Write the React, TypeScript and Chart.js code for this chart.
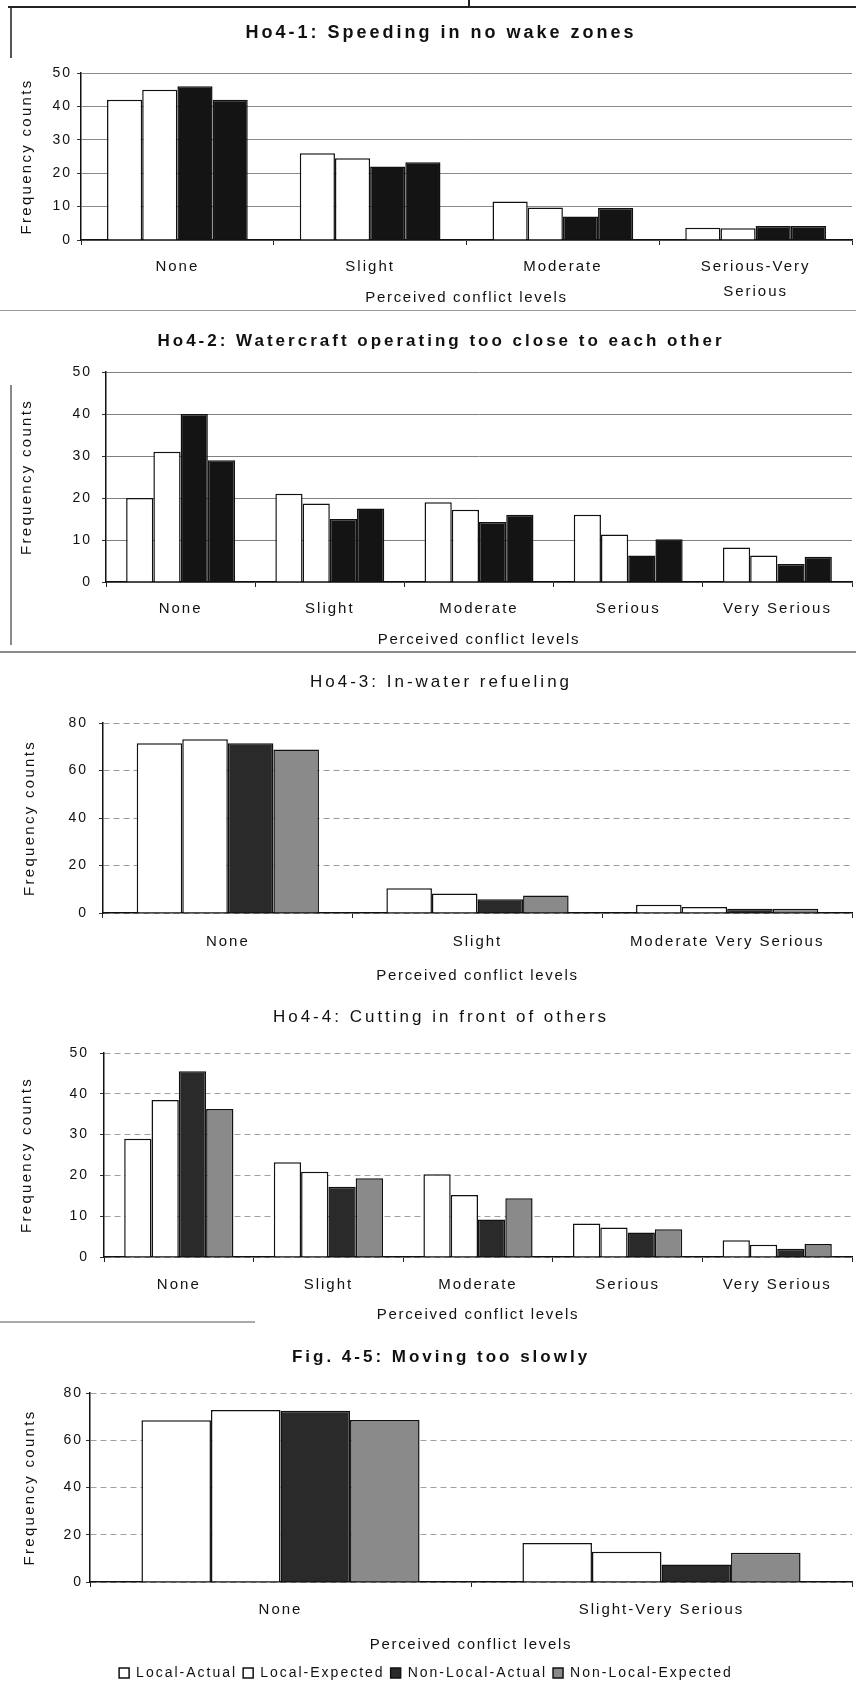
import React, { useEffect, useRef } from 'react';
import { Chart, registerables } from 'chart.js';

Chart.register(...registerables);

const FONT = "'Liberation Sans', Arial, Helvetica, sans-serif";

// ---------------- data ----------------
const seriesLabels = ['Local-Actual', 'Local-Expected', 'Non-Local-Actual', 'Non-Local-Expected'];
const xAxisTitle = 'Perceived conflict levels';
const yAxisTitle = 'Frequency counts';

// Chart 1
const c1Title = 'Ho4-1: Speeding in no wake zones';
const c1Categories = ['None', 'Slight', 'Moderate', ['Serious-Very', 'Serious']];
const c1LocalActual = [42, 26, 11.5, 3.7];
const c1LocalExpected = [45, 24.5, 9.7, 3.5];
const c1NonLocalActual = [46, 22, 7, 4.2];
const c1NonLocalExpected = [42, 23.3, 9.6, 4.2];
const c1YTicks = [0, 10, 20, 30, 40, 50];

// Chart 2
const c2Title = 'Ho4-2: Watercraft operating too close to each other';
const c2Categories = ['None', 'Slight', 'Moderate', 'Serious', 'Very Serious'];
const c2LocalActual = [20, 21, 19, 16, 8.2];
const c2LocalExpected = [31, 18.7, 17.2, 11.3, 6.3];
const c2NonLocalActual = [40, 15, 14.3, 6.3, 4.3];
const c2NonLocalExpected = [29, 17.5, 16, 10.2, 6];
const c2YTicks = [0, 10, 20, 30, 40, 50];

// Chart 3
const c3Title = 'Ho4-3: In-water refueling';
const c3Categories = ['None', 'Slight', 'Moderate Very Serious'];
const c3LocalActual = [71.5, 10.4, 3.5];
const c3LocalExpected = [73.2, 8.2, 2.5];
const c3NonLocalActual = [71.5, 5.8, 1.8];
const c3NonLocalExpected = [68.8, 7.4, 1.8];
const c3YTicks = [0, 20, 40, 60, 80];

// Chart 4
const c4Title = 'Ho4-4: Cutting in front of others';
const c4Categories = ['None', 'Slight', 'Moderate', 'Serious', 'Very Serious'];
const c4LocalActual = [29, 23.2, 20.3, 8.2, 4.1];
const c4LocalExpected = [38.5, 20.9, 15.2, 7.2, 3];
const c4NonLocalActual = [45.5, 17.2, 9.2, 6, 2];
const c4NonLocalExpected = [36.3, 19.3, 14.4, 6.8, 3.2];
const c4YTicks = [0, 10, 20, 30, 40, 50];

// Chart 5
const c5Title = 'Fig. 4-5: Moving too slowly';
const c5Categories = ['None', 'Slight-Very Serious'];
const c5LocalActual = [68.5, 16.5];
const c5LocalExpected = [72.8, 12.8];
const c5NonLocalActual = [72.5, 7.4];
const c5NonLocalExpected = [68.6, 12.4];
const c5YTicks = [0, 20, 40, 60, 80];

// ---------------- styling / layout ----------------
const fillsBlack = ['#ffffff', '#ffffff', '#141414', '#141414'];
const fillsGray = ['#ffffff', '#ffffff', '#2a2a2a', '#8a8a8a'];

const panels: any[] = [
  {
    title: c1Title, categories: c1Categories, yTicks: c1YTicks,
    values: [c1LocalActual, c1LocalExpected, c1NonLocalActual, c1NonLocalExpected],
    fills: fillsBlack,
    top: 13, height: 297, padTop: 60, padBottom: 0, plotLeft: 81, xAxisH: 70,
    xLabelLH: 1.7, xTickPad: 9, yTickPad: 5, yTitleX: 27, xTitleDy: 58,
    titleWeight: 'bold', titleSize: 18, gridColor: '#8a8a8a', gridDash: [], legend: false,
  },
  {
    title: c2Title, categories: c2Categories, yTicks: c2YTicks,
    values: [c2LocalActual, c2LocalExpected, c2NonLocalActual, c2NonLocalExpected],
    fills: fillsBlack,
    top: 321, height: 339, padTop: 51, padBottom: 0, plotLeft: 106, xAxisH: 78,
    xLabelLH: 1.2, xTickPad: 13, yTickPad: 10, yTitleX: 27, xTitleDy: 58,
    titleWeight: 'bold', titleSize: 17, gridColor: '#808080', gridDash: [], legend: false,
  },
  {
    title: c3Title, categories: c3Categories, yTicks: c3YTicks,
    values: [c3LocalActual, c3LocalExpected, c3NonLocalActual, c3NonLocalExpected],
    fills: fillsGray,
    top: 662, height: 333, padTop: 61, padBottom: 0, plotLeft: 103, xAxisH: 82,
    xLabelLH: 1.2, xTickPad: 15, yTickPad: 11, yTitleX: 30, xTitleDy: 63,
    titleWeight: 'normal', titleSize: 17, gridColor: '#9a9a9a', gridDash: [6, 4], legend: false,
  },
  {
    title: c4Title, categories: c4Categories, yTicks: c4YTicks,
    values: [c4LocalActual, c4LocalExpected, c4NonLocalActual, c4NonLocalExpected],
    fills: fillsGray,
    top: 997, height: 338, padTop: 56, padBottom: 0, plotLeft: 104, xAxisH: 78,
    xLabelLH: 1.2, xTickPad: 14, yTickPad: 11, yTitleX: 27, xTitleDy: 58,
    titleWeight: 'normal', titleSize: 17, gridColor: '#a0a0a0', gridDash: [6, 4], legend: false,
  },
  {
    title: c5Title, categories: c5Categories, yTicks: c5YTicks,
    values: [c5LocalActual, c5LocalExpected, c5NonLocalActual, c5NonLocalExpected],
    fills: fillsGray,
    top: 1337, height: 354, padTop: 56, padBottom: 1, plotLeft: 90, xAxisH: 78,
    xLabelLH: 1.2, xTickPad: 14, yTickPad: 3, yTitleX: 30, xTitleDy: 63,
    titleWeight: 'bold', titleSize: 17, gridColor: '#a0a0a0', gridDash: [6, 4], legend: true,
  },
];

const frameLines = [
  { x: 8, y: 6, w: 848, h: 2, c: '#222' },
  { x: 468, y: 0, w: 2, h: 7, c: '#222' },
  { x: 10, y: 8, w: 1.5, h: 50, c: '#555' },
  { x: 0, y: 310, w: 856, h: 1, c: '#9a9a9a' },
  { x: 10, y: 385, w: 1.5, h: 260, c: '#8a8a8a' },
  { x: 0, y: 651, w: 856, h: 1.5, c: '#8a8a8a' },
  { x: 0, y: 1321, w: 255, h: 1.5, c: '#aaaaaa' },
];

const TICK_SPACING = '2px';

const panelTextPlugin = {
  id: 'panelText',
  beforeUpdate(chart: any) {
    chart.ctx.letterSpacing = TICK_SPACING;
  },
  beforeDraw(chart: any) {
    chart.ctx.letterSpacing = TICK_SPACING;
  },
  afterDraw(chart: any, _args: any, opts: any) {
    const ctx = chart.ctx;
    const ca = chart.chartArea;
    ctx.save();
    ctx.fillStyle = '#111';
    ctx.textAlign = 'center';
    ctx.textBaseline = 'middle';
    // chart title
    ctx.font = `${opts.titleWeight} ${opts.titleSize}px ${FONT}`;
    ctx.letterSpacing = '3px';
    ctx.fillText(opts.title, 441, 20);
    // x axis title
    ctx.font = `normal 15px ${FONT}`;
    ctx.letterSpacing = '1.7px';
    ctx.fillText(opts.xTitle, (ca.left + ca.right) / 2, ca.bottom + opts.xTitleDy);
    // y axis title
    ctx.font = `normal 15px ${FONT}`;
    ctx.letterSpacing = '2.3px';
    ctx.translate(opts.yTitleX, (ca.top + ca.bottom) / 2);
    ctx.rotate(-Math.PI / 2);
    ctx.fillText(opts.yTitle, 0, 0);
    ctx.restore();
  },
};

function makeConfig(p: any) {
  const datasets = seriesLabels.map((label, i) => ({
    label,
    data: p.values[i],
    backgroundColor: p.fills[i],
    borderColor: '#111',
    borderWidth: 1.5,
    categoryPercentage: 0.73,
    barPercentage: 1.0,
  }));
  const yMax = p.yTicks[p.yTicks.length - 1];
  const yStep = p.yTicks[1] - p.yTicks[0];
  return {
    type: 'bar',
    data: { labels: p.categories, datasets },
    options: {
      responsive: false,
      animation: false,
      events: [],
      layout: { padding: { top: p.padTop, left: 0, right: 4, bottom: p.padBottom } },
      plugins: {
        legend: p.legend
          ? {
              display: true,
              position: 'bottom',
              labels: {
                font: { family: FONT, size: 14 },
                color: '#111',
                boxWidth: 10,
                boxHeight: 10,
                padding: 6,
              },
            }
          : { display: false },
        title: { display: false },
        tooltip: { enabled: false },
        panelText: {
          title: p.title,
          titleWeight: p.titleWeight,
          titleSize: p.titleSize,
          xTitle: xAxisTitle,
          yTitle: yAxisTitle,
          xTitleDy: p.xTitleDy,
          yTitleX: p.yTitleX,
        },
      },
      scales: {
        x: {
          type: 'category',
          afterFit: (s: any) => { s.height = p.xAxisH; },
          grid: {
            display: true,
            drawOnChartArea: false,
            drawTicks: true,
            tickLength: 5,
            color: '#222',
            offset: true,
          },
          border: { display: true, color: '#111', width: 1.5 },
          ticks: {
            color: '#111',
            padding: p.xTickPad,
            maxRotation: 0,
            autoSkip: false,
            font: { family: FONT, size: 15, lineHeight: p.xLabelLH },
          },
        },
        y: {
          min: 0,
          max: yMax,
          afterFit: (s: any) => { s.width = p.plotLeft; },
          grid: {
            display: true,
            drawOnChartArea: true,
            drawTicks: true,
            tickLength: 4,
            color: p.gridColor,
            tickColor: '#333',
            lineWidth: 1,
          },
          border: { display: true, color: '#111', width: 1.5, dash: p.gridDash },
          ticks: {
            stepSize: yStep,
            color: '#111',
            padding: p.yTickPad,
            font: { family: FONT, size: 14 },
          },
        },
      },
    },
    plugins: [panelTextPlugin],
  };
}

function BarPanel({ p }: { p: any }) {
  const ref = useRef<HTMLCanvasElement>(null);
  useEffect(() => {
    const canvas = ref.current;
    if (!canvas) return;
    const chart = new Chart(canvas, makeConfig(p) as any);
    return () => chart.destroy();
  }, [p]);
  return (
    <canvas
      ref={ref}
      width={856}
      height={p.height}
      style={{ position: 'absolute', left: 0, top: p.top, width: 856, height: p.height }}
    />
  );
}

export default function App() {
  return (
    <div
      style={{
        position: 'absolute',
        left: 0,
        top: 0,
        width: 856,
        height: 1691,
        background: '#fff',
        overflow: 'hidden',
      }}
    >
      {frameLines.map((l, i) => (
        <div
          key={'f' + i}
          style={{ position: 'absolute', left: l.x, top: l.y, width: l.w, height: l.h, background: l.c }}
        />
      ))}
      {panels.map((p, i) => (
        <BarPanel key={i} p={p} />
      ))}
    </div>
  );
}
